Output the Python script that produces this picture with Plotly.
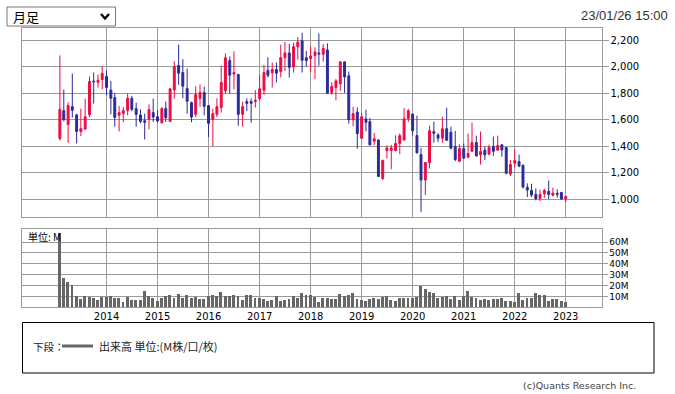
import plotly.graph_objects as go
import pandas as pd

# ---------------- data ----------------
months = pd.date_range("2013-02-01", periods=120, freq="MS")

open_ = [1458,1668,1564,1698,1635,1511,1529,1638,1890,1882,1902,
         1925,1822,1766,1633,1645,1670,1761,1683,1635,1592,1602,1653,
         1622,1577,1683,1587,1824,2008,1955,1834,1728,1640,1761,1804,
         1706,1602,1640,1691,1817,2046,1943,1940,1640,1736,1736,1736,
         1759,1822,1971,1953,1978,1962,2067,2102,1997,2150,2194,2067,
         2060,2082,2102,2092,2125,1805,1842,1870,2035,1930,1600,1657,
         1460,1605,1585,1437,1447,1157,1367,1367,1367,1420,1447,1607,
         1642,1480,1337,1145,1275,1510,1485,1460,1532,1505,1397,1287,
         1382,1317,1362,1427,1335,1370,1340,1397,1370,1410,1390,1190,
         1272,1285,1257,1090,1067,1037,1007,1042,1060,1030,1045,1052,
         1002]
high = [2084,1827,1731,1948,1645,1683,1759,1925,1955,1940,2003,
        1968,1892,1801,1703,1696,1799,1779,1728,1678,1645,1716,1759,
        1673,1696,1736,1840,2041,2165,2056,1986,1736,1852,1865,1849,
        1710,1683,1761,2008,2099,2076,2114,1945,1736,1761,1761,1822,
        1937,2012,2069,2031,2031,2165,2185,2170,2180,2222,2255,2117,
        2152,2145,2250,2170,2175,1882,1907,2042,2040,1962,1697,1692,
        1650,1675,1612,1500,1450,1300,1407,1410,1482,1497,1687,1682,
        1645,1630,1387,1280,1555,1585,1500,1622,1690,1547,1515,1415,
        1420,1495,1577,1480,1510,1397,1412,1472,1480,1415,1392,1297,
        1375,1337,1262,1120,1117,1082,1072,1080,1142,1087,1075,1055,
        1025]
low = [1443,1587,1426,1615,1421,1476,1520,1620,1721,1842,1829,
       1784,1640,1547,1511,1580,1633,1663,1547,1572,1451,1527,1582,
       1580,1569,1582,1582,1759,1862,1761,1645,1580,1620,1698,1633,
       1469,1400,1620,1653,1796,1796,1827,1554,1547,1665,1577,1691,
       1745,1787,1918,1842,1880,1918,1967,1917,1955,2052,1955,2000,
       1957,1905,2007,2037,1792,1787,1745,1817,1802,1570,1550,1382,
       1455,1512,1407,1407,1167,1145,1307,1227,1362,1340,1442,1582,
       1480,1345,905,1032,1232,1427,1432,1427,1440,1375,1287,1280,
       1305,1315,1355,1322,1262,1295,1335,1327,1365,1320,1187,1175,
       1242,1242,1082,1017,1017,992,987,1012,1002,1022,1012,997,
       980]
close = [1678,1600,1706,1670,1511,1532,1622,1887,1885,1897,1948,
         1842,1761,1617,1653,1668,1761,1678,1640,1587,1580,1675,1620,
         1590,1683,1615,1832,1999,1950,1852,1738,1620,1789,1804,1701,
         1572,1645,1698,1880,2066,1935,1955,1640,1698,1723,1723,1746,
         1832,1955,1935,1978,1950,2067,2102,1994,2150,2184,2047,2045,
         2080,2110,2095,2137,1800,1850,1892,2035,1922,1600,1645,1495,
         1622,1580,1410,1457,1172,1292,1387,1387,1420,1480,1607,1667,
         1517,1350,1145,1277,1517,1497,1460,1532,1445,1385,1300,1382,
         1310,1345,1427,1327,1360,1335,1390,1362,1405,1372,1197,1262,
         1292,1250,1092,1070,1032,1005,1037,1067,1037,1047,1037,1002,
         1022]
volume_m = [68,27,23,20.5,10,8,10,9.5,9,7,9.5,
            9.5,10,9,8.5,5,9.5,7,7,7,15,10.5,9,
            6,9,10,11.5,9,12.5,8.5,11,9,9.5,7.5,8,
            10,11,10,14,10,10.5,11,10,7,11.5,11.5,9,
            9,8,6,7,10,5.5,7,8,10,9,13,11,
            11.5,9.5,5,9,9,8,7.4,12,10,11,13.6,7.4,
            6.5,5.6,7.4,9,7.7,9.3,10.8,7.1,6.2,9,8.7,8.7,
            8.4,9.3,19.2,16.7,14.2,13,9,9.3,10.2,7.4,10,6.5,
            10.8,14.9,9.3,8.4,6.8,7.4,6.8,7.4,8,8.4,5.9,5.6,
            4.6,13,6.5,9,9,13,11,11,5.9,7.7,7.7,5.6,
            5.3]

years = list(range(2014, 2024))
year_ticks = [f"{y}-01-01" for y in years]
year_labels = [str(y) for y in years]
price_ticks = [1000, 1200, 1400, 1600, 1800, 2000, 2200]
vol_ticks = [10, 20, 30, 40, 50, 60]
vol_labels = [f"{v}M" for v in vol_ticks]

# ---------------- style ----------------
W, H = 675, 394
UP = "#EC0C45"
DOWN = "#2B2A98"
GRID = "#9a9a9a"
FONT = "DejaVu Sans"


def px(x):
    return x / W


def py(y):
    return 1 - y / H


x_dom = [px(22.3), px(601.5)]
x_range = ["2012-05-08", "2023-09-14"]

fig = go.Figure()
fig.add_trace(go.Candlestick(
    x=months, open=open_, high=high, low=low, close=close,
    increasing=dict(line=dict(color=UP, width=1), fillcolor=UP),
    decreasing=dict(line=dict(color=DOWN, width=1), fillcolor=DOWN),
    whiskerwidth=0, showlegend=False, hoverinfo="skip",
    xaxis="x", yaxis="y"))
fig.add_trace(go.Bar(
    x=months, y=volume_m, marker=dict(color="#666666", line=dict(width=0)),
    width=21 * 86400000, showlegend=False, hoverinfo="skip",
    xaxis="x2", yaxis="y2"))

axis_common = dict(showgrid=True, gridcolor=GRID, gridwidth=1, showline=True,
                   mirror=True, linecolor=GRID, linewidth=1, zeroline=False)

fig.update_layout(
    width=W, height=H, margin=dict(l=0, r=0, t=0, b=0),
    paper_bgcolor="white", plot_bgcolor="white",
    font=dict(family=FONT, size=10, color="#000"),
    showlegend=False,
    xaxis=dict(domain=x_dom, anchor="y", type="date", range=x_range,
               tickvals=year_ticks, showticklabels=False, ticks="",
               rangeslider=dict(visible=False), **axis_common),
    yaxis=dict(domain=[py(217.3), py(27.7)], anchor="x", side="right",
               range=[864.4, 2292.7], tickvals=price_ticks, tickformat=",",
               ticks="outside", ticklen=6, tickcolor=GRID,
               tickfont=dict(family=FONT, size=10, color="#000"),
               **axis_common),
    xaxis2=dict(domain=x_dom, anchor="y2", type="date", range=x_range,
                tickvals=year_ticks, ticktext=year_labels, ticks="",
                tickfont=dict(family=FONT, size=10, color="#000"),
                **axis_common),
    yaxis2=dict(domain=[py(307.3), py(229)], anchor="x2", side="right",
                range=[0, 72], tickvals=vol_ticks, ticktext=vol_labels,
                ticks="outside", ticklen=5, tickcolor=GRID,
                tickfont=dict(family=FONT, size=9, color="#000"),
                **axis_common),
    bargap=0,
)

shapes = [
    # dropdown box
    dict(type="rect", xref="paper", yref="paper", x0=px(7), x1=px(115.5),
         y0=py(26), y1=py(7), line=dict(color="#767676", width=1),
         fillcolor="white"),
    # chevron
    dict(type="path", xref="paper", yref="paper",
         path=f"M {px(101)},{py(14)} L {px(105)},{py(18.5)} L {px(109)},{py(14)}",
         line=dict(color="#000", width=2.2)),
    # legend box
    dict(type="rect", xref="paper", yref="paper", x0=px(22.5), x1=px(654),
         y0=py(373), y1=py(322.5), line=dict(color="#000", width=1)),
    # legend line
    dict(type="line", xref="paper", yref="paper", x0=px(62), x1=px(93),
         y0=py(346), y1=py(346), line=dict(color="#666666", width=3)),
]
fig.update_layout(shapes=shapes)

ann = [
    dict(text="月足", x=px(11), y=py(16.5), xanchor="left", yanchor="middle",
         font=dict(family="Noto Sans CJK JP", size=13, color="#000")),
    dict(text="23/01/26 15:00", x=px(670), y=py(15), xanchor="right",
         yanchor="middle",
         font=dict(family="Liberation Sans", size=13, color="#333")),
    dict(text="単位: M", x=px(26), y=py(236.5), xanchor="left",
         yanchor="middle",
         font=dict(family="Noto Sans CJK JP", size=10, color="#000")),
    dict(text="下段：", x=px(31), y=py(346), xanchor="left", yanchor="middle",
         font=dict(family="Noto Sans CJK JP", size=10.5, color="#222")),
    dict(text="出来高 単位:(M株/口/枚)", x=px(97), y=py(346), xanchor="left",
         yanchor="middle",
         font=dict(family="Noto Sans CJK JP", size=11, color="#222")),
    dict(text="(c)Quants Research Inc.", x=px(637.5), y=py(385),
         xanchor="right", yanchor="middle",
         font=dict(family="DejaVu Sans", size=9.5, color="#444")),
]
for a in ann:
    a.update(xref="paper", yref="paper", showarrow=False)
fig.update_layout(annotations=ann)

fig.write_html("out.html")
